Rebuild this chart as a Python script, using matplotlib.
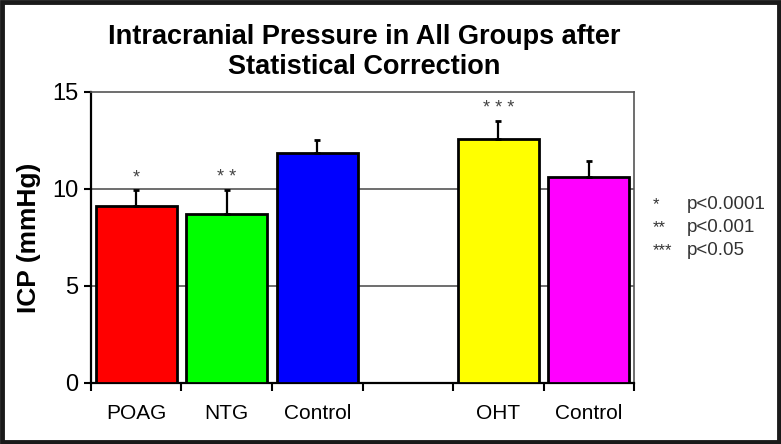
import numpy as np
import matplotlib
matplotlib.use('Agg')
import matplotlib.pyplot as plt
from matplotlib.patches import Rectangle

# data
categories = ['POAG', 'NTG', 'Control', '', 'OHT', 'Control']
icp_mean = [9.1, 8.7, 11.85, np.nan, 12.6, 10.6]
icp_err = [0.85, 1.25, 0.65, np.nan, 0.9, 0.85]
bar_colors = ['#ff0000', '#00ff00', '#0000ff', 'white', '#ffff00', '#ff00ff']
stars = ['*', '* *', '', '', '* * *', '']
legend_stars = ['*', '**', '***']
legend_p = ['p<0.0001', 'p<0.001', 'p<0.05']

plt.rcParams['font.family'] = ['Liberation Sans', 'DejaVu Sans']

fig = plt.figure(figsize=(7.81, 4.44), dpi=100)
ax = fig.add_axes([0.1165, 0.1374, 0.6953, 0.6554])

x = np.arange(len(categories))
for i in range(len(categories)):
    if np.isnan(icp_mean[i]):
        continue
    ax.bar(x[i], icp_mean[i], width=0.89, color=bar_colors[i], edgecolor='black',
           linewidth=2, zorder=3)
    ax.errorbar(x[i], icp_mean[i], yerr=[[0], [icp_err[i]]], fmt='none', ecolor='black',
                elinewidth=1.6, capsize=2, capthick=2, zorder=4)
    if stars[i]:
        ax.text(x[i], icp_mean[i] + icp_err[i] + 0.2, stars[i], ha='center', va='bottom',
                fontsize=13, color='#444444')

ax.set_xlim(-0.5, len(categories) - 0.5)
ax.set_ylim(0, 15)
ax.set_yticks([0, 5, 10, 15])
ax.tick_params(axis='y', labelsize=17, length=5, width=1.5, direction='out', pad=4)
ax.set_xticks(x)
ax.set_xticklabels(categories, fontsize=15)
ax.tick_params(axis='x', which='major', length=0, pad=15)
ax.set_xticks(np.arange(-0.5, len(categories)), minor=True)
ax.tick_params(axis='x', which='minor', length=6, width=1.5, direction='out')

for yv in [5, 10]:
    ax.axhline(yv, color='#555555', linewidth=1.2, zorder=1)

ax.spines['left'].set_linewidth(1.6)
ax.spines['bottom'].set_linewidth(1.6)
ax.spines['top'].set_color('#555555')
ax.spines['top'].set_linewidth(1.2)
ax.spines['right'].set_color('#555555')
ax.spines['right'].set_linewidth(1.2)

ax.set_ylabel('ICP (mmHg)', fontsize=19, fontweight='bold', labelpad=8)

fig.text(0.466, 0.882, 'Intracranial Pressure in All Groups after\nStatistical Correction',
         ha='center', va='center', fontsize=19.5, fontweight='bold', linespacing=1.2)

for k in range(len(legend_stars)):
    yy = 0.54 - k * 0.052
    fig.text(0.836, yy, legend_stars[k], fontsize=12, color='#333333', va='center')
    fig.text(0.88, yy, legend_p[k], fontsize=13.5, color='#333333', va='center')

fig.patches.append(Rectangle((0.003, 0.005), 0.994, 0.99, transform=fig.transFigure,
                             fill=False, edgecolor='#1a1a1a', linewidth=3.5))

plt.savefig('out.png', dpi=100)
